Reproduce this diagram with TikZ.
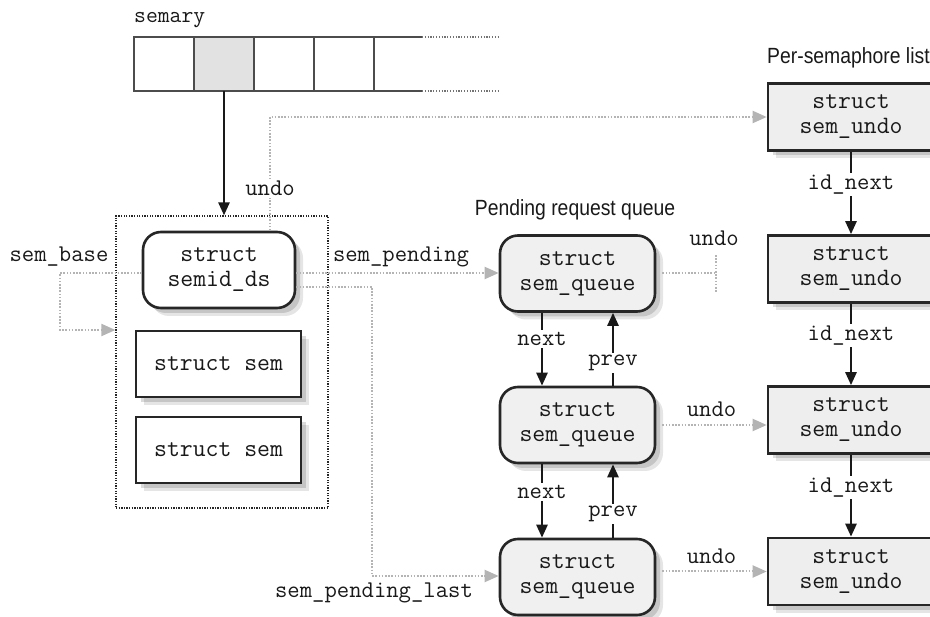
\documentclass[tikz,border=0pt]{standalone}
\usepackage{fontspec}
\newfontfamily\narrowsans[FakeStretch=0.88]{Liberation Sans}
\usetikzlibrary{arrows.meta,shadows}
\definecolor{qfill}{HTML}{F0F0F0}
\definecolor{ufill}{HTML}{EEEEEE}
\definecolor{cellfill}{HTML}{E2E2E2}
\definecolor{gline}{HTML}{B4B4B4}
\tikzset{
  boxtext/.style={font=\ttfamily\fontsize{25}{25}\selectfont, text=black!90, align=center},
  lbl/.style={font=\ttfamily\fontsize{24}{24}\selectfont, text=black!90, inner sep=1pt},
  softshadow/.style={drop shadow={shadow xshift=8pt, shadow yshift=-8pt, opacity=0.10, fill=black},
                     drop shadow={shadow xshift=5pt, shadow yshift=-5pt, opacity=0.14, fill=black}},
  queuebox/.style={boxtext, draw=black!85, line width=2.6pt, fill=qfill, rounded corners=18pt,
                   minimum width=155pt, minimum height=76pt, inner sep=0pt, softshadow},
  undobox/.style={boxtext, draw=black!85, line width=2.6pt, fill=ufill,
                  minimum width=166pt, minimum height=67pt, inner sep=0pt, softshadow},
  sembox/.style={boxtext, draw=black!85, line width=2.6pt, fill=white,
                 minimum width=165pt, minimum height=66pt, inner sep=0pt, softshadow},
  dsbox/.style={boxtext, draw=black!85, line width=2.6pt, fill=white, rounded corners=18pt,
                minimum width=152pt, minimum height=76pt, inner sep=0pt, softshadow},
  cell/.style={draw=black!70, line width=1.8pt, minimum width=60pt, minimum height=54pt, inner sep=0pt, outer sep=0pt},
  arrline/.style={draw=black!70, line width=1.8pt},
  arrdots/.style={draw=black!55, line width=1.6pt, dash pattern=on 1.2pt off 1.6pt},
  ptr/.style={line width=2.5pt, draw=black!90, -{Triangle[length=13pt,width=11pt]}},
  gdots/.style={line width=2pt, draw=gline, dash pattern=on 1.6pt off 1.6pt},
  gptr/.style={gdots, -{Triangle[length=14pt,width=12pt,fill=gline,color=gline]}},
  onlbl/.style={lbl, fill=white, inner sep=2pt},
  title/.style={font=\narrowsans\fontsize{22}{24}\selectfont, text=black!90, inner sep=0pt}
}
\begin{document}
\begin{tikzpicture}[x=1pt,y=-1pt]
\useasboundingbox (0,0) rectangle (930,617);

% semary array
\node[lbl, font=\ttfamily\fontsize{23}{23}\selectfont, anchor=west, inner sep=0pt] (semary) at (134,20) {semary};
\node[cell] (c1) at (164,64) {};
\node[cell, fill=cellfill] (c2) at (224,64) {};
\node[cell] (c3) at (284,64) {};
\node[cell] (c4) at (344,64) {};
\coordinate (topend) at (422,37);
\coordinate (botend) at (422,91);
\coordinate (topdot) at (500,37);
\coordinate (botdot) at (500,91);
\draw[arrline] (c4.north east) -- (topend);
\draw[arrline] (c4.south east) -- (botend);
\draw[arrdots] (topend) -- (topdot);
\draw[arrdots] (botend) -- (botdot);

% dotted frame with semid_ds and struct sem
\node[draw=black!85, line width=1.2pt, dash pattern=on 1.3pt off 1.3pt,
      minimum width=212pt, minimum height=292pt, inner sep=0pt] (frame) at (222,362) {};
\node[dsbox] (semid) at (219,270) {struct\\semid\_ds};
\node[sembox] (sem1) at (218.5,364) {struct sem};
\node[sembox] (sem2) at (218.5,450) {struct sem};

\draw[ptr] (c2.south) -- (c2.south |- frame.north);

% queue
\node[title] (pq) at (575,210) {Pending request queue};
\node[queuebox] (q1) at (577.5,273.5) {struct\\sem\_queue};
\node[queuebox] (q2) at (577.5,425) {struct\\sem\_queue};
\node[queuebox] (q3) at (577.5,577) {struct\\sem\_queue};

% undo list
\node[title, anchor=west] (psl) at (767,58) {Per-semaphore list};
\node[undobox] (u1) at (851,117) {struct\\sem\_undo};
\node[undobox] (u2) at (851,269) {struct\\sem\_undo};
\node[undobox] (u3) at (851,420) {struct\\sem\_undo};
\node[undobox] (u4) at (851,571.5) {struct\\sem\_undo};

% undo from semid_ds
\coordinate (ucorner) at (270,117);
\draw[gptr] (semid.north -| ucorner) -- node[onlbl, pos=0.37] {undo} (ucorner) -- (u1.west);

% sem_base
\coordinate (sb1) at (60,273);
\coordinate (sb2) at (60,330);
\draw[gptr] (semid.west |- sb1) -- (sb1) -- (sb2) -- (frame.west |- sb2);
\node[lbl] (sembase) at (59,257) {sem\_base};

% sem_pending
\coordinate (sp) at (400,273);
\draw[gptr] (semid.east |- sp) -- (q1.west |- sp);
\node[lbl] (sempending) at (401,257) {sem\_pending};

% sem_pending_last
\coordinate (spl1) at (372,287);
\coordinate (spl2) at (372,576);
\draw[gptr] (semid.east |- spl1) -- (spl1) -- (spl2) -- (q3.west |- spl2);
\node[lbl] (sempl) at (374,593) {sem\_pending\_last};

% next / prev
\coordinate (nx) at (542,0);
\coordinate (pv) at (613,0);
\draw[ptr] (q1.south -| nx) -- node[onlbl, pos=0.36] {next} (q2.north -| nx);
\draw[ptr] (q2.north -| pv) -- node[onlbl, pos=0.31] {prev} (q1.south -| pv);
\draw[ptr] (q2.south -| nx) -- node[onlbl, pos=0.38] {next} (q3.north -| nx);
\draw[ptr] (q3.north -| pv) -- node[onlbl, pos=0.32] {prev} (q2.south -| pv);

% undo from queues
\coordinate (nul) at (716,273.5);
\coordinate (nulA) at (716,255);
\coordinate (nulB) at (716,292);
\draw[gdots, shorten <=6pt] (q1.east) -- (nul);
\draw[gdots] (nulA) -- (nulB);
\node[lbl] (undoq1) at (714,238) {undo};
\draw[gptr, shorten <=6pt] (q2.east) -- node[lbl, above=6pt] {undo} (u3.west |- q2.east);
\draw[gptr, shorten <=6pt] (q3.east |- u4.west) -- node[lbl, above=6pt] {undo} (u4.west);

% id_next
\draw[ptr] (u1.south) -- node[onlbl, pos=0.4] {id\_next} (u2.north);
\draw[ptr] (u2.south) -- node[onlbl, pos=0.39] {id\_next} (u3.north);
\draw[ptr] (u3.south) -- node[onlbl, pos=0.4] {id\_next} (u4.north);
\end{tikzpicture}
\end{document}
